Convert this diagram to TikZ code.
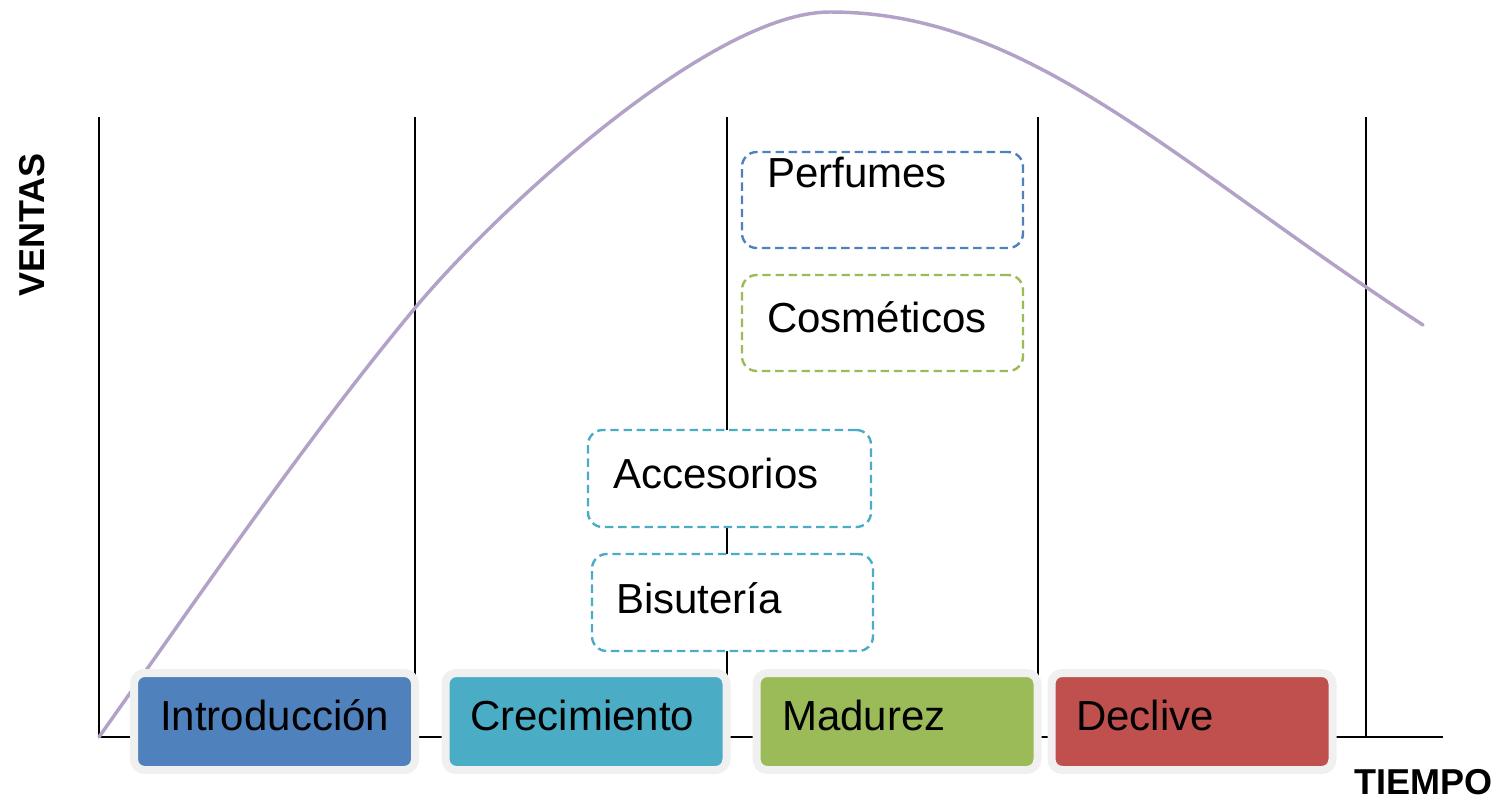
\documentclass[tikz,border=0pt]{standalone}
\usepackage{fontspec}
\setmainfont{Liberation Sans}
\definecolor{cblue}{HTML}{4F81BD}
\definecolor{ccyan}{HTML}{4BACC6}
\definecolor{cgreen}{HTML}{9BBB59}
\definecolor{cred}{HTML}{C0504D}
\definecolor{cring}{HTML}{F0F0F0}
\definecolor{ccurve}{HTML}{B3A2C7}
\begin{document}
\begin{tikzpicture}[x=0.75pt,y=-0.75pt,
  guide/.style={line width=1.9pt, black},
  stagebox/.style={draw=cring, line width=6pt, rounded corners=8pt, minimum width=210.75pt, minimum height=72.75pt, inner sep=0pt},
  dashbox/.style={draw, fill=white, line width=1.8pt, dash pattern=on 6.3pt off 3.6pt, rounded corners=11pt, inner sep=0pt},
  lbl/.style={anchor=base west, inner sep=0pt, font=\fontsize{31.5}{36}\selectfont},
  axlbl/.style={inner sep=0pt, font=\fontsize{27}{32}\selectfont\bfseries}]
\useasboundingbox (0,0) rectangle (1503,800);

% axes and stage dividers
\coordinate (o) at (99,737);
\coordinate (xend) at (1443,737);
\foreach \i/\x in {1/99,2/415,3/727,4/1038,5/1366}{
  \coordinate (top\i) at (\x,117);
  \coordinate (bot\i) at (\x,737);
}
\draw[guide] (o) -- (xend);
\foreach \i in {1,...,5}{ \draw[guide] (top\i) -- (bot\i); }

% sales curve
\coordinate (c0) at (99,737);
\coordinate (c1) at (415,308);
\coordinate (peak) at (830,12);
\coordinate (cend) at (1423,325);
\draw[ccurve, line width=2.6pt, line cap=round]
  (c0) .. controls (204,589) and (310,434) .. (c1)
       .. controls (495,212) and (710,12) .. (peak)
       .. controls (1030,12) and (1173,162.5) .. (cend);

% product boxes
\node[dashbox, draw=cblue, minimum width=210.75pt, minimum height=72pt] (perf) at (882.5,200) {};
\node[dashbox, draw=cgreen, minimum width=210.75pt, minimum height=72pt] (cosm) at (882.5,323) {};
\node[dashbox, draw=ccyan, minimum width=212.25pt, minimum height=72.75pt] (acce) at (729.5,478.5) {};
\node[dashbox, draw=ccyan, minimum width=210.75pt, minimum height=72.75pt] (bisu) at (732.5,602.5) {};
\node[lbl] (tperf) at (767,187) {Perfumes};
\node[lbl] (tcosm) at (767,332) {Cosméticos};
\node[lbl] (tacce) at (613,488) {Accesorios};
\node[lbl] (tbisu) at (616,613) {Bisutería};

% stage boxes
\node[stagebox, fill=cblue]  (intro) at (274.5,721.5) {};
\node[stagebox, fill=ccyan]  (crec)  at (586,721.5) {};
\node[stagebox, fill=cgreen] (madu)  at (897,721.5) {};
\node[stagebox, fill=cred]   (decl)  at (1192,721.5) {};
\node[lbl] (tintro) at (160,730) {Introducción};
\node[lbl] (tcrec)  at (470,730) {Crecimiento};
\node[lbl] (tmadu)  at (782,730) {Madurez};
\node[lbl] (tdecl)  at (1076,730) {Declive};

% axis labels
\node[axlbl, rotate=90] (ventas) at (32,225) {VENTAS};
\node[axlbl, anchor=base west] (tiempo) at (1354,794) {TIEMPO};
\end{tikzpicture}
\end{document}
